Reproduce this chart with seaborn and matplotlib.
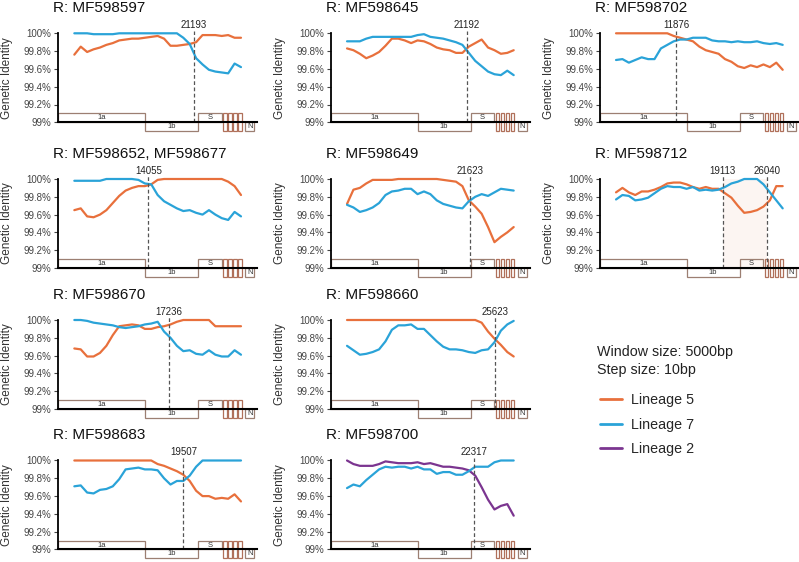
import numpy as np
import pandas as pd
import matplotlib.pyplot as plt
import seaborn as sns
from matplotlib.lines import Line2D
from matplotlib.patches import Rectangle

sns.set_style("white")
plt.rcParams['font.family'] = ['Liberation Sans', 'DejaVu Sans']

# window centres (bp), 5000bp windows
pos = [2500, 3500, 4500, 5500, 6500, 7500, 8500, 9500, 10500, 11500, 12500, 13500, 14500,
       15500, 16500, 17500, 18500, 19500, 20500, 21500, 22500, 23500, 24500, 25500, 26500,
       27500, 28500]

# genetic identity (%)
mf597_l5 = [99.76, 99.85, 99.79, 99.82, 99.84, 99.87, 99.89, 99.92, 99.93, 99.94, 99.94, 99.95, 99.96, 99.97,
            99.94, 99.86, 99.86, 99.87, 99.88, 99.90, 99.98, 99.98, 99.98, 99.97, 99.98, 99.95, 99.95]
mf597_l7 = [100, 100, 100, 99.99, 99.99, 99.99, 99.99, 100, 100, 100, 100, 100, 100, 100,
            100, 100, 100, 99.95, 99.88, 99.72, 99.65, 99.59, 99.57, 99.56, 99.55, 99.66, 99.62]

mf645_l5 = [99.83, 99.81, 99.77, 99.72, 99.75, 99.79, 99.86, 99.94, 99.94, 99.92, 99.89, 99.92, 99.91, 99.88,
            99.84, 99.82, 99.81, 99.78, 99.78, 99.85, 99.89, 99.93, 99.84, 99.81, 99.77, 99.78, 99.81]
mf645_l7 = [99.91, 99.91, 99.91, 99.94, 99.96, 99.96, 99.96, 99.96, 99.96, 99.96, 99.96, 99.98, 99.99, 99.96,
            99.95, 99.94, 99.92, 99.90, 99.87, 99.78, 99.69, 99.63, 99.57, 99.54, 99.53, 99.58, 99.53]

mf702_l5 = [100, 100, 100, 100, 100, 100, 100, 100, 100, 99.97, 99.95, 99.93, 99.91, 99.85,
            99.81, 99.79, 99.77, 99.71, 99.68, 99.63, 99.61, 99.64, 99.62, 99.65, 99.62, 99.67, 99.59]
mf702_l7 = [99.70, 99.71, 99.67, 99.70, 99.73, 99.71, 99.71, 99.83, 99.87, 99.91, 99.93, 99.93, 99.95, 99.95,
            99.95, 99.92, 99.91, 99.91, 99.90, 99.91, 99.90, 99.90, 99.91, 99.89, 99.88, 99.89, 99.87]

mf652_l5 = [99.65, 99.67, 99.58, 99.57, 99.60, 99.65, 99.73, 99.81, 99.87, 99.90, 99.92, 99.92, 99.94, 99.99,
            100, 100, 100, 100, 100, 100, 100, 100, 100, 100, 99.97, 99.92, 99.82]
mf652_l7 = [99.98, 99.98, 99.98, 99.98, 99.98, 100, 100, 100, 100, 100, 99.99, 99.95, 99.94, 99.82,
            99.75, 99.71, 99.67, 99.64, 99.65, 99.62, 99.60, 99.65, 99.60, 99.56, 99.54, 99.63, 99.58]

mf649_l5 = [99.72, 99.88, 99.90, 99.95, 99.99, 99.99, 99.99, 99.99, 100, 100, 100, 100, 100, 100,
            100, 99.99, 99.98, 99.97, 99.92, 99.76, 99.69, 99.61, 99.46, 99.29, 99.35, 99.40, 99.46]
mf649_l7 = [99.71, 99.68, 99.63, 99.65, 99.68, 99.73, 99.82, 99.86, 99.87, 99.89, 99.89, 99.83, 99.86, 99.83,
            99.76, 99.72, 99.70, 99.68, 99.67, 99.75, 99.80, 99.83, 99.81, 99.85, 99.89, 99.88, 99.87]

mf712_l5 = [99.85, 99.90, 99.85, 99.82, 99.86, 99.86, 99.88, 99.91, 99.95, 99.96, 99.96, 99.94, 99.91, 99.89,
            99.91, 99.89, 99.89, 99.84, 99.79, 99.70, 99.62, 99.63, 99.65, 99.69, 99.76, 99.92, 99.92]
mf712_l7 = [99.77, 99.82, 99.81, 99.76, 99.77, 99.79, 99.84, 99.89, 99.92, 99.91, 99.91, 99.89, 99.91, 99.87,
            99.88, 99.87, 99.88, 99.91, 99.95, 99.97, 100, 100, 100, 99.94, 99.85, 99.76, 99.67]

mf670_l5 = [99.68, 99.67, 99.59, 99.59, 99.63, 99.71, 99.83, 99.93, 99.94, 99.95, 99.94, 99.90, 99.90, 99.92,
            99.93, 99.95, 99.98, 100, 100, 100, 100, 100, 99.93, 99.93, 99.93, 99.93, 99.93]
mf670_l7 = [100, 100, 99.99, 99.97, 99.96, 99.95, 99.94, 99.92, 99.91, 99.92, 99.93, 99.95, 99.96, 99.98,
            99.87, 99.80, 99.71, 99.65, 99.66, 99.62, 99.61, 99.66, 99.61, 99.59, 99.59, 99.66, 99.61]

mf660_l5 = [100, 100, 100, 100, 100, 100, 100, 100, 100, 100, 100, 100, 100, 100,
            100, 100, 100, 100, 100, 100, 100, 99.97, 99.87, 99.79, 99.72, 99.64, 99.59]
mf660_l7 = [99.71, 99.66, 99.61, 99.62, 99.64, 99.67, 99.76, 99.89, 99.94, 99.94, 99.95, 99.90, 99.90, 99.83,
            99.76, 99.70, 99.67, 99.67, 99.66, 99.64, 99.63, 99.66, 99.67, 99.75, 99.88, 99.95, 99.99]

mf683_l5 = [100, 100, 100, 100, 100, 100, 100, 100, 100, 100, 100, 100, 100, 99.96,
            99.94, 99.91, 99.88, 99.84, 99.77, 99.66, 99.60, 99.60, 99.57, 99.58, 99.57, 99.62, 99.54]
mf683_l7 = [99.71, 99.72, 99.64, 99.63, 99.67, 99.68, 99.71, 99.79, 99.90, 99.91, 99.92, 99.90, 99.90, 99.89,
            99.80, 99.73, 99.77, 99.77, 99.83, 99.93, 100, 100, 100, 100, 100, 100, 100]

mf700_l2 = [100, 99.96, 99.94, 99.94, 99.94, 99.96, 99.99, 99.98, 99.97, 99.97, 99.97, 99.98, 99.96, 99.97,
            99.95, 99.93, 99.93, 99.92, 99.91, 99.89, 99.83, 99.70, 99.56, 99.45, 99.49, 99.51, 99.38]
mf700_l7 = [99.69, 99.73, 99.71, 99.78, 99.84, 99.90, 99.93, 99.92, 99.93, 99.93, 99.91, 99.93, 99.90, 99.90,
            99.85, 99.87, 99.87, 99.84, 99.84, 99.88, 99.93, 99.93, 99.93, 99.98, 100, 100, 100]

# genome map (bp)
gene_names = ["1a", "1b", "S", "N"]
gene_start = [0, 13500, 21800, 29100]
gene_end = [13500, 21800, 25500, 30600]
gene_above = [True, False, True, False]
acc_start = [25750, 26530, 27310, 28090]
acc_width = 500

c5, c7, c2 = "#E8703C", "#2AA3D8", "#7B3590"
palette = {"Lineage 5": c5, "Lineage 7": c7, "Lineage 2": c2}

# (title, row, col, breakpoints, {lineage: values})
panels = [
    ("R: MF598597", 0, 0, [21193], {"Lineage 5": mf597_l5, "Lineage 7": mf597_l7}),
    ("R: MF598645", 0, 1, [21192], {"Lineage 5": mf645_l5, "Lineage 7": mf645_l7}),
    ("R: MF598702", 0, 2, [11876], {"Lineage 5": mf702_l5, "Lineage 7": mf702_l7}),
    ("R: MF598652, MF598677", 1, 0, [14055], {"Lineage 5": mf652_l5, "Lineage 7": mf652_l7}),
    ("R: MF598649", 1, 1, [21623], {"Lineage 5": mf649_l5, "Lineage 7": mf649_l7}),
    ("R: MF598712", 1, 2, [19113, 26040], {"Lineage 5": mf712_l5, "Lineage 7": mf712_l7}),
    ("R: MF598670", 2, 0, [17236], {"Lineage 5": mf670_l5, "Lineage 7": mf670_l7}),
    ("R: MF598660", 2, 1, [25623], {"Lineage 5": mf660_l5, "Lineage 7": mf660_l7}),
    ("R: MF598683", 3, 0, [19507], {"Lineage 5": mf683_l5, "Lineage 7": mf683_l7}),
    ("R: MF598700", 3, 1, [22317], {"Lineage 2": mf700_l2, "Lineage 7": mf700_l7}),
]

W, H = 799, 562
fig = plt.figure(figsize=(W / 100, H / 100), dpi=100)

col_x = [58.3, 331, 600]          # pixel x of the left spine
row_y99 = [122.3, 268, 409, 549.5]  # pixel y of the 99% line
px_pct = 89.0                      # pixels per 1%
xmax = 31000
ax_w = xmax / 156.0
ylo, yhi = 98.85, 100.10

for title, r, c, bps, series in panels:
    y99 = row_y99[r]
    rect = [col_x[c] / W, 1 - (y99 + (99 - ylo) * px_pct) / H, ax_w / W, (yhi - ylo) * px_pct / H]
    ax = fig.add_axes(rect)
    ax.set_xlim(0, xmax)
    ax.set_ylim(ylo, yhi)

    if len(bps) == 2:
        ax.axvspan(bps[0], bps[1], ymin=(99 - ylo) / (yhi - ylo), ymax=(100 - ylo) / (yhi - ylo),
                   color="#FCF5F2", zorder=0, lw=0)

    # genome map
    for name, s, e, up in zip(gene_names, gene_start, gene_end, gene_above):
        y0 = 99.0 if up else 98.9
        ax.add_patch(Rectangle((s, y0), e - s, 0.1, fill=False, ec="#9C7F72", lw=0.9, zorder=1))
        ax.text((s + e) / 2, y0 + 0.05, name, ha="center", va="center", fontsize=5.5, color="#333333")
    for s in acc_start:
        ax.add_patch(Rectangle((s, 98.9), acc_width, 0.2, fill=False, ec="#B0705A", lw=0.9, zorder=1))

    df = pd.DataFrame([(p, v, k) for k, vals in series.items() for p, v in zip(pos, vals)],
                      columns=["pos", "identity", "lineage"])
    sns.lineplot(data=df, x="pos", y="identity", hue="lineage", palette=palette,
                 legend=False, ax=ax, lw=1.6, estimator=None, zorder=3)

    for bp in bps:
        ax.vlines(bp, 99, 100.03, colors="#555555", linestyles=(0, (3, 2)), lw=0.9, zorder=4)
        ax.text(bp, 100.09, str(bp), ha="center", va="center", fontsize=7, color="#222222")

    ax.set_yticks([99, 99.2, 99.4, 99.6, 99.8, 100])
    ax.set_yticklabels(["99%", "99.2%", "99.4%", "99.6%", "99.8%", "100%"])
    ax.set_xticks([])
    ax.tick_params(axis="y", left=True, length=3, width=0.8, labelsize=7, pad=2,
                   labelcolor="#444444", color="#444444")
    ax.set_xlabel("")
    ax.set_ylabel("Genetic Identity", fontsize=8.5, color="#333333")
    ax.yaxis.set_label_coords(-45 / ax_w, (99.5 - ylo) / (yhi - ylo))

    for side in ["top", "right"]:
        ax.spines[side].set_visible(False)
    ax.spines["left"].set_bounds(99, 100)
    ax.spines["left"].set_linewidth(1.3)
    ax.spines["left"].set_color("black")
    ax.spines["bottom"].set_position(("data", 99))
    ax.spines["bottom"].set_linewidth(1.5)
    ax.spines["bottom"].set_color("black")
    ax.spines["bottom"].set_zorder(5)

    ax.text(-5 / ax_w, 100 + 25 / px_pct, title, transform=ax.get_yaxis_transform(),
            ha="left", va="center", fontsize=11, color="#111111")

# legend area
fig.text(597 / W, 1 - 352 / H, "Window size: 5000bp", fontsize=10.3, va="center", color="#222222")
fig.text(597 / W, 1 - 370 / H, "Step size: 10bp", fontsize=10.3, va="center", color="#222222")
handles = [Line2D([], [], color=palette[k], lw=2) for k in ["Lineage 5", "Lineage 7", "Lineage 2"]]
fig.legend(handles, ["Lineage 5", "Lineage 7", "Lineage 2"], loc="upper left",
           bbox_to_anchor=(600 / W, 1 - 393 / H), frameon=False, fontsize=10.3,
           handlelength=1.55, handletextpad=0.6, labelspacing=0.75, borderpad=0, borderaxespad=0)

fig.savefig("out.png", dpi=100)
